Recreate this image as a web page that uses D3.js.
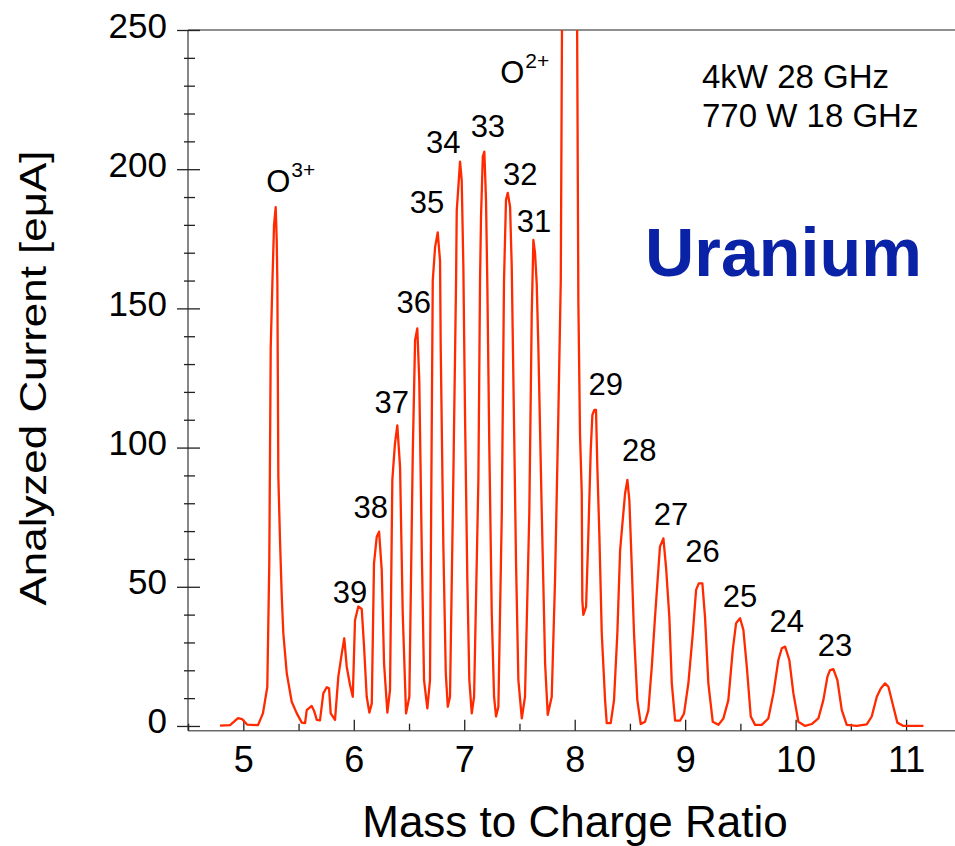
<!DOCTYPE html>
<html><head><meta charset="utf-8">
<script src="https://cdn.jsdelivr.net/npm/d3@7"></script>
<style>
html,body{margin:0;padding:0;background:#fff;}
text{font-family:"Liberation Sans",Arial,Helvetica,sans-serif;}
</style></head>
<body>
<svg id="chart" width="955" height="846"></svg>
<script>
// Spectrum trace (mass-to-charge ratio, analyzed current in eμA)
const massToCharge = [4.789,4.880,4.952,4.988,5.034,5.133,5.178,5.217,5.235,5.248,5.263,5.278,5.293,5.302,5.308,5.317,5.332,5.348,5.362,5.393,5.438,5.483,5.529,5.559,5.574,5.619,5.640,5.665,5.694,5.724,5.755,5.776,5.791,5.830,5.860,5.891,5.914,5.936,5.966,5.991,6.011,6.041,6.072,6.093,6.117,6.141,6.163,6.183,6.208,6.229,6.253,6.274,6.304,6.328,6.349,6.373,6.394,6.419,6.443,6.473,6.503,6.534,6.555,6.575,6.593,6.615,6.636,6.666,6.690,6.715,6.736,6.760,6.781,6.787,6.811,6.833,6.851,6.871,6.901,6.926,6.932,6.962,6.977,6.992,7.007,7.028,7.046,7.068,7.089,7.128,7.143,7.152,7.168,7.182,7.197,7.209,7.227,7.249,7.270,7.288,7.309,7.340,7.360,7.378,7.394,7.415,7.430,7.445,7.469,7.490,7.521,7.550,7.589,7.611,7.626,7.641,7.656,7.671,7.702,7.732,7.756,7.792,7.822,7.852,7.874,7.886,7.904,7.949,8.004,8.021,8.033,8.048,8.064,8.069,8.078,8.103,8.124,8.145,8.160,8.178,8.193,8.205,8.223,8.245,8.275,8.290,8.326,8.356,8.386,8.411,8.435,8.456,8.477,8.495,8.517,8.537,8.567,8.598,8.637,8.667,8.698,8.727,8.748,8.772,8.803,8.827,8.857,8.879,8.909,8.954,8.990,9.029,9.069,9.099,9.123,9.156,9.180,9.210,9.250,9.301,9.346,9.391,9.431,9.461,9.497,9.527,9.558,9.594,9.633,9.694,9.753,9.799,9.844,9.875,9.905,9.943,9.980,10.025,10.086,10.146,10.206,10.251,10.288,10.312,10.342,10.378,10.418,10.463,10.554,10.644,10.689,10.735,10.771,10.810,10.840,10.885,10.921,10.976,11.157];
const current = [0.1,0.3,2.8,2.5,0.5,0.3,4.6,14,58.5,136,159,180,186.4,175,160,89.6,66.8,46.4,33.3,19,8.7,4.6,1.2,1,5.7,7.2,5.5,2.2,2,11.7,13.9,13.5,4.5,2.2,17.7,26,31.5,21.3,14.7,10.5,38,42.9,42,28.5,10.5,4.8,8.1,58.4,68,69.8,56,22.5,4.8,12.9,88.4,101.5,108,93,40.5,4.5,10.5,98,138.6,142.8,124,64.4,16.5,6.3,16.5,160,172,177.3,167,136,64.4,18.9,6.9,10.5,88.4,160,185,202.7,196,165,112,52.4,16.5,4.5,10.5,88.4,160,183,204.5,206.3,189,159,100.3,40.5,10.5,3.4,6.9,76.3,160,189,191.5,186.5,165,124.3,58.4,16.5,2.7,10.5,76.3,148,174.6,169.8,159,136,76.3,22.5,4,10.5,52.4,112,160,260,330,400,330,260,153,105,83.5,45.3,39.9,42.8,69.2,99,111.7,113.5,113.5,93,69,33.2,9.3,1,1,9.3,33.2,63,74,83.5,88.4,81,57,33.2,9.3,0.7,1.5,5.7,21.3,39,51,64.4,67.4,57,39,15.3,1.9,1.9,4.5,15.3,33.2,48.9,51.2,51.2,39,15.3,1.5,0.4,2.7,9.3,27.3,36.9,38.7,34.5,21.3,3.4,0.4,0.4,2.7,11.7,23.7,27.9,28.5,23.7,11.7,1.5,0,0.7,2.7,9.3,17.7,20.1,20.4,16.5,5.7,0.4,0,0.6,3.4,10.5,13.5,15.3,14.1,6.9,1.2,0,0];

// Peak labels: charge state, x and y of label anchor (data units)
const peakLabels = ["39","38","37","36","35","34","33","32","31","29","28","27","26","25","24","23"];
const peakLabelX = [5.966,6.154,6.344,6.543,6.663,6.811,7.214,7.508,7.632,8.282,8.584,8.871,9.158,9.497,9.920,10.357];
const peakLabelY = [44.1,74.6,112.3,148.4,184.1,205.7,211.7,194.3,177.5,118.9,95.2,72.2,59.0,42.6,33.9,25.1];
const xTicks = [5,6,7,8,9,10,11];
const yTicks = [0,50,100,150,200,250];
const annotLines = ["4kW 28 GHz","770 W 18 GHz"];

const svg = d3.select("#chart");
const x = d3.scaleLinear().domain([4.5, 11.5]).range([188.1, 961.3]);
const y = d3.scaleLinear().domain([-1.7, 250]).range([730.7, 30]);
const X0 = 188, Y0 = 730.7, YT = 30;

svg.append("defs").append("clipPath").attr("id","clip")
  .append("rect").attr("x", X0).attr("y", YT).attr("width", 955 - X0).attr("height", Y0 - YT);

// frame lines
svg.append("line").attr("x1",X0).attr("x2",955).attr("y1",YT).attr("y2",YT).attr("stroke","#6a6a6a").attr("stroke-width",1.6);
svg.append("line").attr("x1",X0).attr("x2",955).attr("y1",Y0).attr("y2",Y0).attr("stroke","#6a6a6a").attr("stroke-width",1.6);
svg.append("line").attr("x1",X0).attr("x2",X0).attr("y1",YT).attr("y2",Y0).attr("stroke","#6a6a6a").attr("stroke-width",1.6);

// y axis ticks (crossing)
const yMinor = d3.range(0, 251, 10).filter(v => v % 50 !== 0);
const yAxisG = svg.append("g").attr("transform", `translate(${X0},0)`)
  .call(d3.axisLeft(y).tickValues(yTicks).tickSize(11).tickPadding(10).tickFormat(d3.format("d")));
yAxisG.select(".domain").remove();
yAxisG.selectAll(".tick line").attr("x1", 12).attr("stroke","#222").attr("stroke-width",1.3);
yAxisG.selectAll(".tick text").attr("font-size", 35).attr("fill","#000").attr("dy","0.2em")
  .attr("font-family","Liberation Sans, Arial, sans-serif");
const yMinorG = svg.append("g").attr("transform", `translate(${X0},0)`)
  .call(d3.axisLeft(y).tickValues(yMinor).tickSize(4).tickFormat(""));
yMinorG.select(".domain").remove();
yMinorG.selectAll(".tick line").attr("x1", 7).attr("stroke","#222").attr("stroke-width",1.3);

// x axis ticks (inside)
const xMinor = d3.range(4.5, 11.6, 1);
const xAxisG = svg.append("g").attr("transform", `translate(0,${Y0})`)
  .call(d3.axisBottom(x).tickValues(xTicks).tickSizeInner(-11).tickSizeOuter(0).tickPadding(0).tickFormat(d3.format("d")));
xAxisG.select(".domain").remove();
xAxisG.selectAll(".tick line").attr("stroke","#222").attr("stroke-width",1.3);
xAxisG.selectAll(".tick text").attr("font-size", 36).attr("fill","#000").attr("y", 41).attr("dy", 0)
  .attr("font-family","Liberation Sans, Arial, sans-serif");
const xMinorG = svg.append("g").attr("transform", `translate(0,${Y0})`)
  .call(d3.axisBottom(x).tickValues(xMinor).tickSizeInner(-7).tickSizeOuter(0).tickFormat(""));
xMinorG.select(".domain").remove();
xMinorG.selectAll(".tick line").attr("stroke","#222").attr("stroke-width",1.3);

// trace
const pts = massToCharge.map((m,i) => [m, current[i]]);
svg.append("path").datum(pts).attr("clip-path","url(#clip)")
  .attr("fill","none").attr("stroke","#ff2a00").attr("stroke-width",2.3).attr("stroke-linejoin","round")
  .attr("d", d3.line().x(d => x(d[0])).y(d => y(d[1])));

// peak labels
svg.append("g").selectAll("text").data(peakLabels).join("text")
  .attr("x", (d,i) => x(peakLabelX[i])).attr("y", (d,i) => y(peakLabelY[i]))
  .attr("text-anchor","middle").attr("font-size", 31).attr("fill","#000").text(d => d);

// oxygen labels with superscripts
function oxLabel(xv, yv, sup) {
  const t = svg.append("text").attr("x", x(xv)).attr("y", y(yv)).attr("font-size", 31).attr("fill","#000");
  t.append("tspan").text("O");
  t.append("tspan").attr("font-size", 21).attr("dy", -15).attr("dx", 1).text(sup);
}
oxLabel(5.207, 191.9, "3+");
oxLabel(7.325, 231, "2+");

// axis titles
svg.append("text").attr("x", 575).attr("y", 837).attr("text-anchor","middle")
  .attr("font-size", 44).attr("fill","#000").text("Mass to Charge Ratio");
svg.append("text").attr("transform","translate(46,378) rotate(-90)").attr("text-anchor","middle")
  .attr("font-size", 37).attr("fill","#000").attr("textLength", 455).attr("lengthAdjust","spacingAndGlyphs")
  .text("Analyzed Current [eμA]");

// annotations
svg.append("g").selectAll("text").data(annotLines).join("text")
  .attr("x", 702).attr("y", (d,i) => 88 + i*38.5).attr("font-size", 33).attr("fill","#000").text(d => d);
svg.append("text").attr("x", 645).attr("y", 276).attr("font-size", 69).attr("font-weight","bold")
  .attr("fill","#0a22a6").attr("textLength", 277).attr("lengthAdjust","spacingAndGlyphs").text("Uranium");
</script>
</body></html>
